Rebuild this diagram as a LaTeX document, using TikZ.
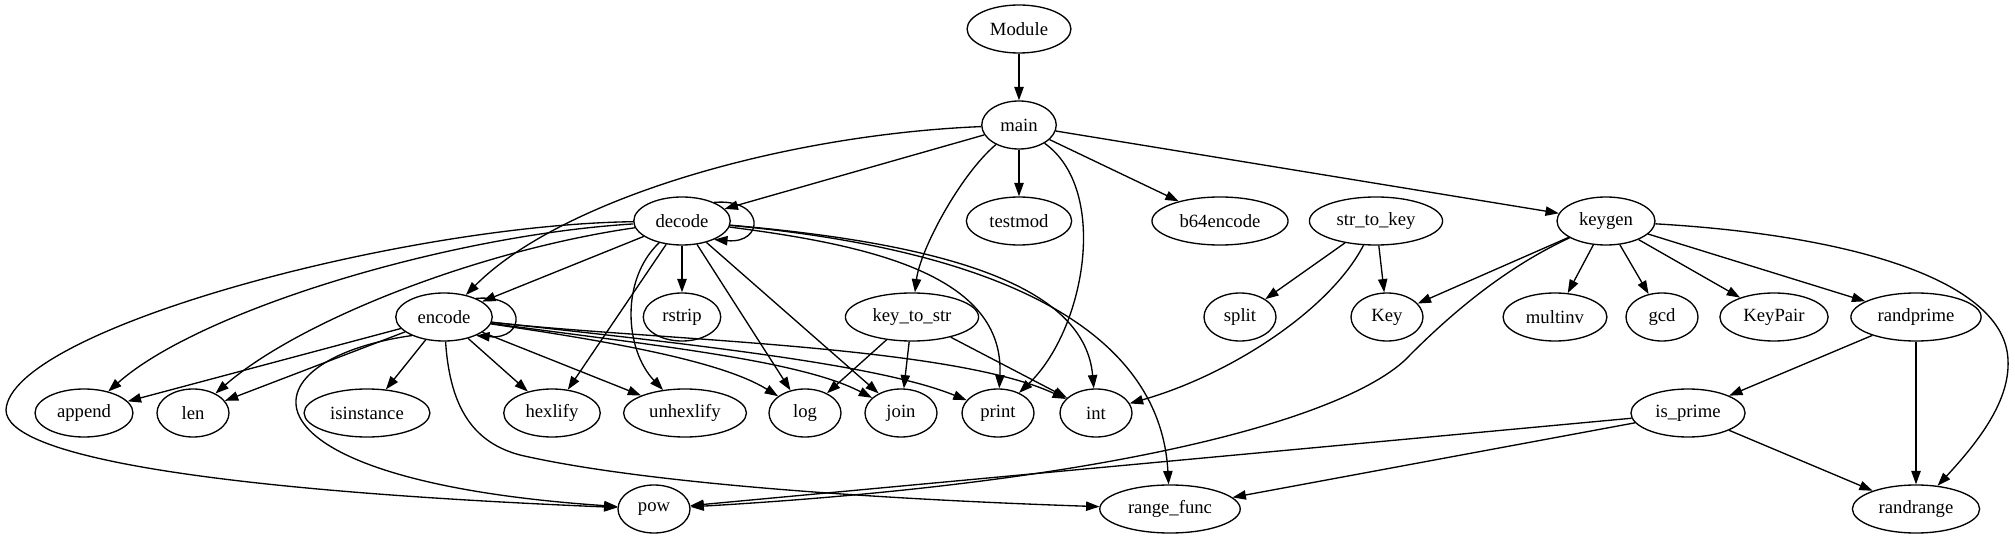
\documentclass[tikz,border=0pt]{standalone}
\usepackage{fontspec}
\setmainfont{Liberation Serif}
\usetikzlibrary{arrows.meta,shapes.geometric}
\begin{document}
\begin{tikzpicture}[x=0.7498pt,y=-0.7498pt,
  nd/.style={draw, ellipse, line width=1pt, font=\fontsize{14}{16}\selectfont,
    minimum width=54pt, minimum height=36pt, inner xsep=5.75pt, inner ysep=2pt},
  ed/.style={draw, line width=1pt, -{Triangle[length=10pt,width=7pt]}}]
\useasboundingbox (0,0) rectangle (2015,539);
% rank 0,1
\node[nd] (module) at (1019,29) {Module};
\node[nd] (main) at (1019,125) {main};
% rank 2
\node[nd] (decode) at (682,221) {decode};
\node[nd] (testmod) at (1019,221) {testmod};
\node[nd] (bsf) at (1220,221) {b64encode};
\node[nd] (strtokey) at (1376,221) {str\_to\_key};
\node[nd] (keygen) at (1606,221) {keygen};
% rank 3
\node[nd] (encode) at (444,317) {encode};
\node[nd] (rstrip) at (682,317) {rstrip};
\node[nd] (keytostr) at (912,317) {key\_to\_str};
\node[nd] (split) at (1240,317) {split};
\node[nd] (Key) at (1387,317) {Key};
\node[nd] (multinv) at (1555,317) {multinv};
\node[nd] (gcd) at (1662,317) {gcd};
\node[nd] (keypair) at (1774,317) {KeyPair};
\node[nd] (randprime) at (1916,317) {randprime};
% rank 4
\node[nd] (append) at (84,413) {append};
\node[nd] (len) at (193,413) {len};
\node[nd] (isinstance) at (367,413) {isinstance};
\node[nd] (hexlify) at (552,413) {hexlify};
\node[nd] (unhexlify) at (685,413) {unhexlify};
\node[nd] (log) at (805,413) {log};
\node[nd] (join) at (901,413) {join};
\node[nd] (print) at (998,413) {print};
\node[nd] (int) at (1096,413) {int};
\node[nd] (isprime) at (1688,413) {is\_prime};
% rank 5
\node[nd] (pow) at (654,509) {pow};
\node[nd] (rangefunc) at (1170,509) {range\_func};
\node[nd] (randrange) at (1916,509) {randrange};

% Module / main
\draw[ed] (module) -- (main);
\draw[ed] (main) -- (decode);
\draw[ed] (main) .. controls (780,135) and (560,200) .. (encode);
\draw[ed] (main) -- (testmod);
\draw[ed] (main) .. controls (960,175) and (920,250) .. (keytostr);
\draw[ed] (main) .. controls (1110,190) and (1085,330) .. (print);
\draw[ed] (main) -- (bsf);
\draw[ed] (main) -- (keygen);

% decode
\draw[ed] (decode.30) .. controls (765,198) and (765,244) .. (decode.-30);
\draw[ed] (decode) -- (encode);
\draw[ed] (decode) -- (rstrip);
\draw[ed] (decode) .. controls (450,235) and (200,310) .. (append);
\draw[ed] (decode) .. controls (480,250) and (300,320) .. (len);
\draw[ed] (decode) .. controls (400,225) and (10,330) .. (6,410)
  .. controls (6,455) and (200,490) .. (pow);
\draw[ed] (decode) -- (hexlify);
\draw[ed] (decode) .. controls (620,280) and (625,350) .. (unhexlify);
\draw[ed] (decode) -- (log);
\draw[ed] (decode) -- (join);
\draw[ed] (decode) .. controls (870,245) and (1005,275) .. (print);
\draw[ed] (decode) .. controls (960,245) and (1085,290) .. (int);
\draw[ed] (decode) .. controls (1000,250) and (1160,330) .. (rangefunc);

% encode
\draw[ed] (encode.30) .. controls (527,294) and (527,340) .. (encode.-30);
\draw[ed] (encode) -- (append);
\draw[ed] (encode) -- (len);
\draw[ed] (encode) -- (isinstance);
\draw[ed] (encode) -- (hexlify);
\draw[ed] (encode) -- (unhexlify);
\draw[ed] (encode) .. controls (600,340) and (720,360) .. (log);
\draw[ed] (encode) .. controls (650,345) and (800,360) .. (join);
\draw[ed] (encode) .. controls (700,345) and (880,365) .. (print);
\draw[ed] (encode) .. controls (650,340) and (950,345) .. (int);
\draw[ed] (encode.210) .. controls (240,360) and (225,480) .. (pow);
\draw[ed] (encode) .. controls (450,410) and (475,443) .. (520,455)
  .. controls (650,485) and (900,500) .. (rangefunc);

% key_to_str, str_to_key
\draw[ed] (keytostr) -- (log);
\draw[ed] (keytostr) -- (join);
\draw[ed] (keytostr) -- (int);
\draw[ed] (strtokey) -- (split);
\draw[ed] (strtokey) -- (Key);
\draw[ed] (strtokey) .. controls (1330,310) and (1230,375) .. (int);

% keygen
\draw[ed] (keygen) -- (Key);
\draw[ed] (keygen) -- (multinv);
\draw[ed] (keygen) -- (gcd);
\draw[ed] (keygen) -- (keypair);
\draw[ed] (keygen) -- (randprime);
\draw[ed] (keygen) .. controls (1850,235) and (2005,280) .. (2008,360)
  .. controls (2010,400) and (1980,440) .. (randrange);
\draw[ed] (keygen) .. controls (1500,270) and (1445,320) .. (1410,355)
  .. controls (1360,410) and (1150,480) .. (pow);

% randprime, is_prime
\draw[ed] (randprime) -- (isprime);
\draw[ed] (randprime) -- (randrange);
\draw[ed] (isprime) -- (pow);
\draw[ed] (isprime) -- (rangefunc);
\draw[ed] (isprime) -- (randrange);
\end{tikzpicture}
\end{document}
